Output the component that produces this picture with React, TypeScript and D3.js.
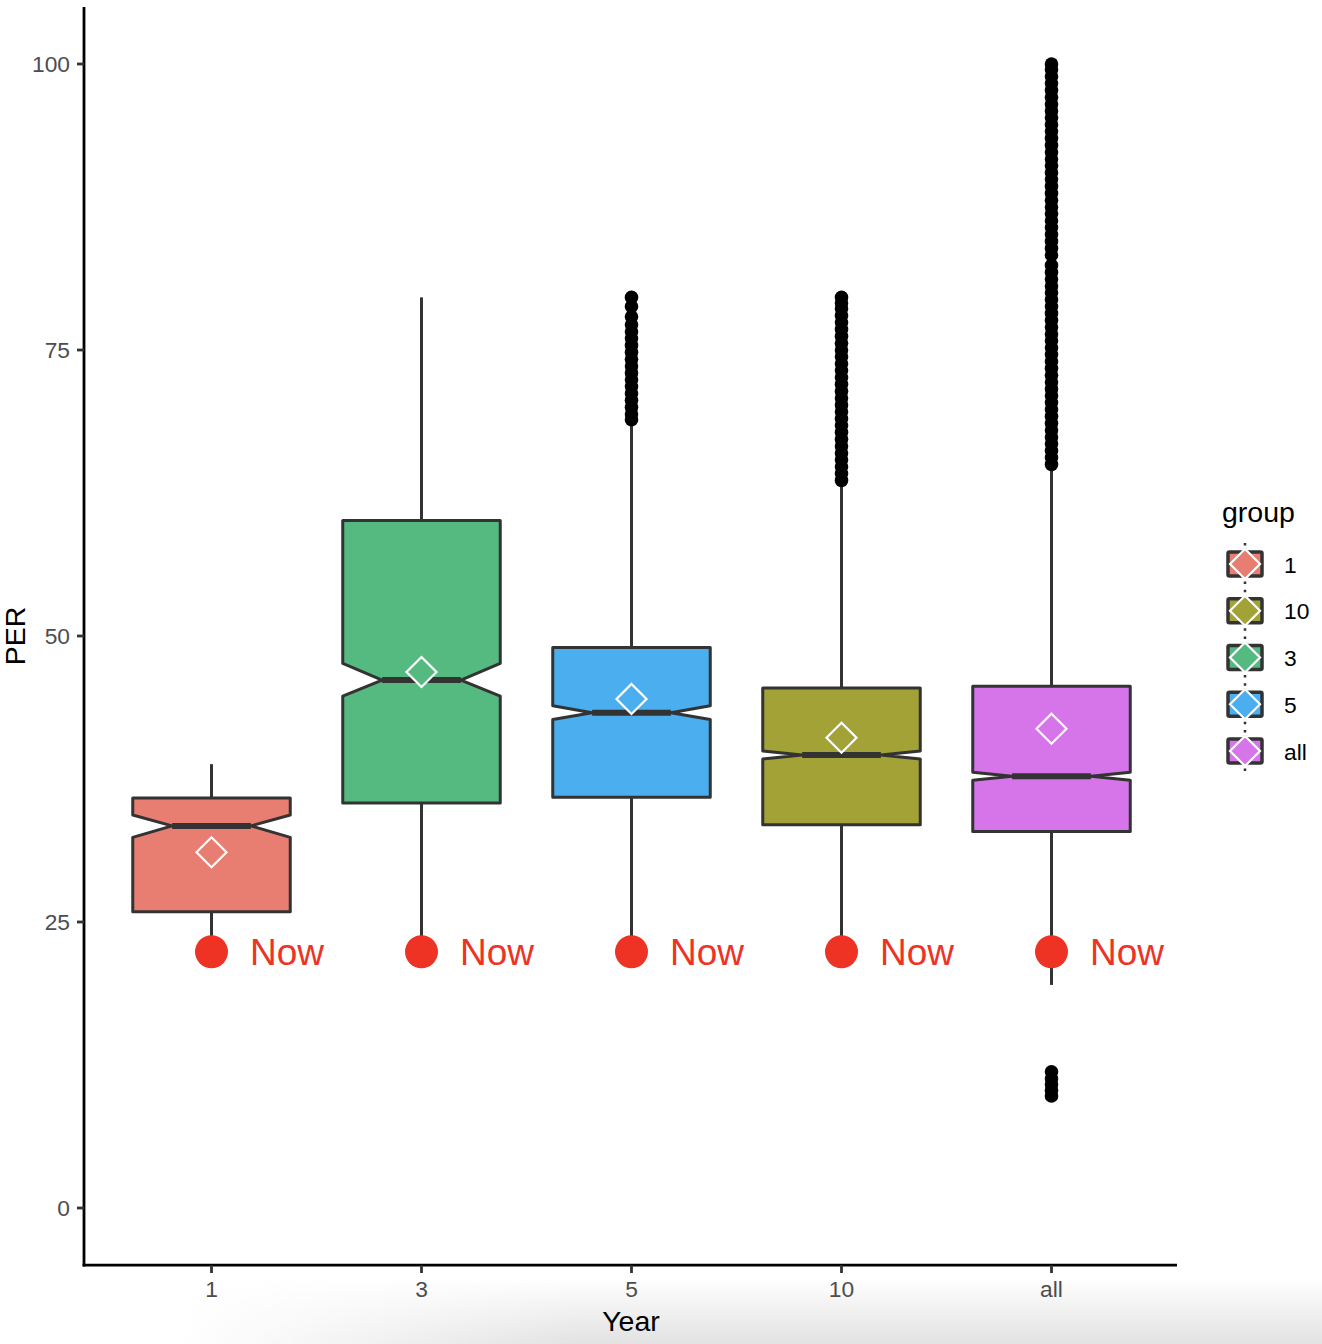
import React from "react";
import * as d3 from "d3";

const categories = ["1", "3", "5", "10", "all"];
const boxColors = ["#E87D72", "#55BA80", "#4BAEEF", "#A3A236", "#D675EA"];
const lowerWhisker = [23.0, 22.0, 21.5, 22.0, 19.5];
const q1 = [25.9, 35.4, 35.9, 33.5, 32.9];
const notchLow = [32.4, 44.75, 42.7, 39.25, 37.4];
const medians = [33.4, 46.15, 43.3, 39.6, 37.75];
const notchHigh = [34.35, 47.6, 43.9, 39.95, 38.1];
const q3 = [35.85, 60.1, 49.0, 45.45, 45.6];
const upperWhisker = [38.8, 79.6, 68.6, 63.3, 64.7];
const means = [31.1, 46.85, 44.5, 41.1, 41.9];
const nowValue = [22.4, 22.4, 22.4, 22.4, 22.4];

const outliers1: number[] = [];
const outliers3: number[] = [];
const outliers5 = [68.9, 69.4, 70.0, 70.6, 71.2, 71.8, 72.4, 73.0, 73.6, 74.2, 74.8, 75.4, 76.0, 76.6, 77.2, 77.9, 78.8, 79.6];
const outliers10 = [63.6, 64.2, 64.8, 65.4, 66.0, 66.6, 67.2, 67.8, 68.4, 69.0, 69.6, 70.2, 70.8, 71.4, 72.0, 72.6, 73.2, 73.8, 74.4, 75.0, 75.6, 76.2, 76.8, 77.4, 78.0, 78.6, 79.1, 79.6];
const outliersAll = [9.8, 10.3, 10.8, 11.3, 11.9,
  65.0, 65.6, 66.2, 66.8, 67.4, 68.0, 68.6, 69.2, 69.8, 70.4, 71.0, 71.6, 72.2, 72.8, 73.4, 74.0, 74.6, 75.2, 75.8, 76.4, 77.0, 77.6, 78.2, 78.8, 79.4, 80.0, 80.6, 81.2, 81.8, 82.4,
  83.3, 83.9, 84.5, 85.1, 85.7, 86.3, 86.9, 87.5, 88.1, 88.7, 89.3, 89.9, 90.5, 91.1, 91.7, 92.3, 92.9, 93.5, 94.1, 94.7, 95.3, 95.9, 96.5, 97.1, 97.7, 98.3, 98.9, 99.5, 100.0];
const outlierSets = [outliers1, outliers3, outliers5, outliers10, outliersAll];

const yTicks = [0, 25, 50, 75, 100];
const legendOrder = ["1", "10", "3", "5", "all"];

const FONT = "'Liberation Sans', Arial, Helvetica, sans-serif";

export default function App() {
  const W = 1322, H = 1344;
  const y = d3.scaleLinear().domain([-5, 105]).range([1265.2, 6.8]);
  const x = d3.scalePoint<string>().domain(categories).range([85.5, 1177.5]).padding(0.6);
  const step = x.step();
  const bw = step * 0.75;
  const hw = bw / 2;
  const nw = hw * 0.5;

  return (
    <svg width={W} height={H} style={{ position: "absolute", left: 0, top: 0, background: "#fff" }} fontFamily={FONT}>
      <defs>
        <linearGradient id="shadeV" x1="0" y1="0" x2="0" y2="1">
          <stop offset="0" stopColor="#e2e2e2" stopOpacity="0" />
          <stop offset="1" stopColor="#e2e2e2" stopOpacity="1" />
        </linearGradient>
        <linearGradient id="fadeH" x1="0" y1="0" x2="1" y2="0">
          <stop offset="0" stopColor="#fff" stopOpacity="0" />
          <stop offset="0.35" stopColor="#fff" stopOpacity="1" />
          <stop offset="1" stopColor="#fff" stopOpacity="1" />
        </linearGradient>
        <mask id="shadeMask">
          <rect x={180} y={1278} width={1142} height={66} fill="url(#fadeH)" />
        </mask>
      </defs>
      <rect x={0} y={0} width={W} height={H} fill="#fff" />
      <rect x={180} y={1278} width={1142} height={66} fill="url(#shadeV)" mask="url(#shadeMask)" />

      {/* boxes */}
      {categories.map((c, i) => {
        const cx = x(c)!;
        const path = [
          [cx - hw, y(q3[i])],
          [cx - hw, y(notchHigh[i])],
          [cx - nw, y(medians[i])],
          [cx - hw, y(notchLow[i])],
          [cx - hw, y(q1[i])],
          [cx + hw, y(q1[i])],
          [cx + hw, y(notchLow[i])],
          [cx + nw, y(medians[i])],
          [cx + hw, y(notchHigh[i])],
          [cx + hw, y(q3[i])],
        ];
        const line = d3.line()(path as [number, number][]) + "Z";
        return (
          <g key={c}>
            <line x1={cx} x2={cx} y1={y(upperWhisker[i])} y2={y(q3[i])} stroke="#333" strokeWidth={3} />
            <line x1={cx} x2={cx} y1={y(q1[i])} y2={y(lowerWhisker[i])} stroke="#333" strokeWidth={3} />
            <path d={line} fill={boxColors[i]} stroke="#333" strokeWidth={3} strokeLinejoin="round" />
            <line x1={cx - nw} x2={cx + nw} y1={y(medians[i])} y2={y(medians[i])} stroke="#333" strokeWidth={6} />
          </g>
        );
      })}

      {/* outliers */}
      {categories.map((c, i) =>
        outlierSets[i].map((v, j) => (
          <circle key={c + "o" + j} cx={x(c)!} cy={y(v)} r={6.8} fill="#000" />
        ))
      )}

      {/* mean diamonds */}
      {categories.map((c, i) => {
        const cx = x(c)!, cy = y(means[i]);
        const d = 15;
        return (
          <path key={c + "m"} d={`M${cx},${cy - d}L${cx + d},${cy}L${cx},${cy + d}L${cx - d},${cy}Z`}
            fill={boxColors[i]} stroke="#fff" strokeWidth={2.2} />
        );
      })}

      {/* Now markers */}
      {categories.map((c, i) => {
        const cx = x(c)!, cy = y(nowValue[i]);
        return (
          <g key={c + "n"}>
            <circle cx={cx} cy={cy} r={16.5} fill="#EE3224" />
            <text x={cx + 38.5} y={cy + 13.5} fontSize={37} fill="#EE3224">Now</text>
          </g>
        );
      })}

      {/* axes */}
      <line x1={84} x2={84} y1={7} y2={1266.5} stroke="#000" strokeWidth={2.8} />
      <line x1={82.6} x2={1177} y1={1265.2} y2={1265.2} stroke="#000" strokeWidth={2.8} />
      {yTicks.map((t) => (
        <g key={"yt" + t}>
          <line x1={77} x2={84} y1={y(t)} y2={y(t)} stroke="#333" strokeWidth={2.8} />
          <text x={70} y={y(t) + 8} textAnchor="end" fontSize={22.8} fill="#4D4D4D">{t}</text>
        </g>
      ))}
      {categories.map((c) => (
        <g key={"xt" + c}>
          <line x1={x(c)!} x2={x(c)!} y1={1265.2} y2={1273} stroke="#333" strokeWidth={2.8} />
          <text x={x(c)!} y={1297} textAnchor="middle" fontSize={22.8} fill="#4D4D4D">{c}</text>
        </g>
      ))}
      <text x={631} y={1331} textAnchor="middle" fontSize={28.5} fill="#000">Year</text>
      <text transform={`translate(25,636) rotate(-90)`} textAnchor="middle" fontSize={28.5} fill="#000">PER</text>

      {/* legend */}
      <text x={1222} y={522} fontSize={28.5} fill="#000">group</text>
      {legendOrder.map((g, k) => {
        const i = categories.indexOf(g);
        const cy = 564 + k * 46.75;
        const cx = 1245;
        const d = 15;
        return (
          <g key={"lg" + g}>
            <rect x={cx - 17} y={cy - 12} width={34} height={24} fill={boxColors[i]} stroke="#333" strokeWidth={3.5} rx={1.5} />
            <line x1={cx} x2={cx} y1={cy - 21} y2={cy + 21} stroke="#333" strokeWidth={2.5} strokeDasharray="2.5,3" />
            <path d={`M${cx},${cy - d}L${cx + d},${cy}L${cx},${cy + d}L${cx - d},${cy}Z`} fill={boxColors[i]} stroke="#fff" strokeWidth={2.2} />
            <text x={1284} y={cy + 8.5} fontSize={22.8} fill="#000">{g}</text>
          </g>
        );
      })}
    </svg>
  );
}
